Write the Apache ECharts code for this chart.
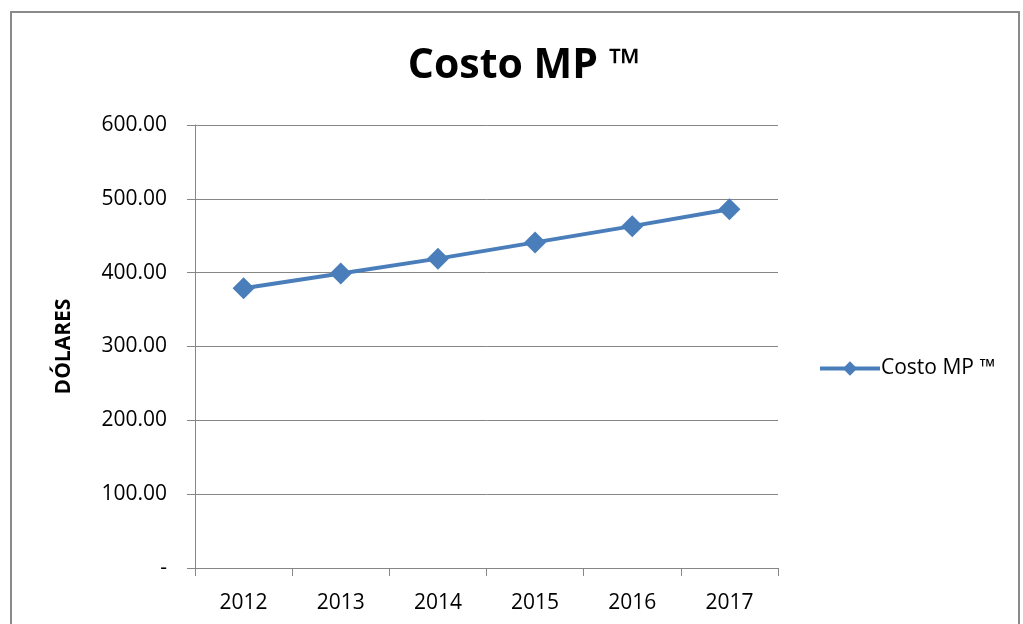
<!DOCTYPE html>
<html>
<head>
<meta charset="utf-8">
<script src="https://cdn.jsdelivr.net/npm/echarts@6/dist/echarts.min.js"></script>
<style>html,body{margin:0;padding:0;background:#fff;}#c{width:1023px;height:624px;}</style>
</head>
<body>
<div id="c"></div>
<script>
var categories = ['2012', '2013', '2014', '2015', '2016', '2017'];
var costoMP = [379, 399, 419, 441, 463, 486];
var seriesName = 'Costo MP ™';
var titleText = 'Costo MP ™';
var yAxisName = 'DÓLARES';

var font = '"Open Sans", "Noto Sans", sans-serif';
var chart = echarts.init(document.getElementById('c'));
chart.setOption({
  animation: false,
  backgroundColor: '#fff',
  graphic: [{
    type: 'rect', silent: true, z: -1,
    shape: { x: 11, y: 12, width: 1008, height: 640 },
    style: { fill: 'none', stroke: '#8a8a8a', lineWidth: 2 }
  }],
  title: {
    text: titleText, left: 519, top: 41, textAlign: 'center',
    textStyle: { fontFamily: font, fontWeight: 'bold', fontSize: 41, color: '#000' }
  },
  legend: {
    data: [seriesName], left: 813, top: 353, orient: 'vertical',
    itemWidth: 60, itemHeight: 18, itemGap: 6,
    lineStyle: { width: 4 },
    textStyle: { fontFamily: font, fontSize: 21, color: '#000', padding: [0, 0, 0, -4] }
  },
  grid: { left: 195, right: 245, top: 125, bottom: 56, containLabel: false },
  xAxis: {
    type: 'category', data: categories, boundaryGap: true,
    axisLine: { lineStyle: { color: '#868686', width: 1 } },
    axisTick: { show: true, length: 8, lineStyle: { color: '#868686' } },
    axisLabel: { fontFamily: font, fontSize: 21, color: '#000', margin: 25 },
    splitLine: { show: false }
  },
  yAxis: {
    type: 'value', min: 0, max: 600, interval: 100,
    name: yAxisName, nameLocation: 'middle', nameGap: 120, nameRotate: 90,
    nameTextStyle: { fontFamily: font, fontWeight: 'bold', fontSize: 21, color: '#000' },
    axisLine: { show: true, lineStyle: { color: '#868686', width: 1 } },
    axisTick: { show: true, length: 8, lineStyle: { color: '#868686' } },
    axisLabel: {
      fontFamily: font, fontSize: 21, color: '#000', margin: 28,
      formatter: function (v) { return v === 0 ? '-' : v.toFixed(2); }
    },
    splitLine: { show: true, lineStyle: { color: '#868686', width: 1 } }
  },
  series: [{
    name: seriesName, type: 'line', data: costoMP,
    symbol: 'diamond', symbolSize: 22,
    itemStyle: { color: '#4A7EBB' },
    lineStyle: { color: '#4A7EBB', width: 4 }
  }]
});
</script>
</body>
</html>
